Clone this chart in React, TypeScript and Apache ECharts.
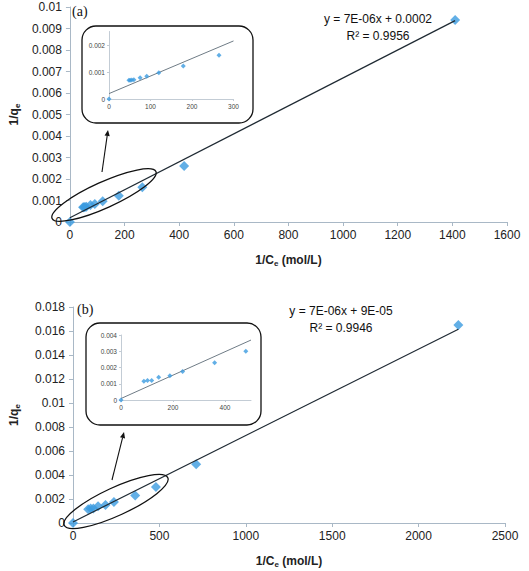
import React, { useEffect, useRef } from "react";
import * as echarts from "echarts";

// ---- data ----
const topX = [0, 48, 51, 55, 60, 75, 91, 120, 179, 265, 418, 1410];
const topY = [0, 0.00069, 0.00069, 0.0007, 0.00071, 0.00079, 0.00084, 0.00097, 0.00122, 0.00162, 0.0026, 0.0094];
const botX = [0, 88, 102, 118, 145, 188, 237, 360, 480, 713, 2230];
const botY = [0, 0.00115, 0.0012, 0.0012, 0.0014, 0.0015, 0.00175, 0.0023, 0.003, 0.0049, 0.0165];
const topSlope = 6.5e-6;
const topIntercept = 0.0002;
const botSlope = 7.2e-6;
const botIntercept = 0.00009;
const topEquation = ["y = 7E-06x + 0.0002", "R² = 0.9956"];
const botEquation = ["y = 7E-06x + 9E-05", "R² = 0.9946"];
const insetTopMaxX = 300;
const insetBotMaxX = 500;

const FONT = "Liberation Sans";
const BLUE = "#3b9be0";
const AXIS = "#a9b8c6";

const fmt = (v: number) => (v === 0 ? "0" : String(+v.toFixed(4)));
const fmtX = (v: number) => String(Math.round(v));

function pts(xs: number[], ys: number[], maxX = Infinity) {
  const out: number[][] = [];
  xs.forEach((x, i) => {
    if (x <= maxX) out.push([x, ys[i]]);
  });
  return out;
}
function trend(slope: number, icpt: number, x0: number, x1: number) {
  return [
    [x0, icpt + slope * x0],
    [x1, icpt + slope * x1],
  ];
}

const richName = {
  b: { fontSize: 12, fontWeight: "bold", fontFamily: FONT, color: "#222" },
  s: { fontSize: 8, fontWeight: "bold", fontFamily: FONT, color: "#222", padding: [6, 0, 0, 0] },
};

function mainX(grid: number, max: number, interval: number) {
  return {
    gridIndex: grid,
    type: "value",
    min: 0,
    max,
    interval,
    axisLine: { show: true, lineStyle: { color: AXIS, width: 1 } },
    axisTick: { show: true, length: 4, lineStyle: { color: AXIS } },
    splitLine: { show: false },
    axisLabel: { fontSize: 12, color: "#222", margin: 7, fontFamily: FONT, formatter: fmtX },
    name: "{b|1/C}{s|e}{b| (mol/L)}",
    nameLocation: "middle",
    nameGap: 31,
    nameTextStyle: { rich: richName },
  };
}
function mainY(grid: number, max: number, interval: number, gap: number) {
  return {
    gridIndex: grid,
    type: "value",
    min: 0,
    max,
    interval,
    axisLine: { show: true, lineStyle: { color: AXIS, width: 1 } },
    axisTick: { show: true, length: 4, lineStyle: { color: AXIS } },
    splitLine: { show: false },
    axisLabel: { fontSize: 12, color: "#222", margin: 8, fontFamily: FONT, formatter: fmt },
    name: "{b|1/q}{s|e}",
    nameLocation: "middle",
    nameGap: gap,
    nameTextStyle: { rich: richName },
  };
}
function insetAxis(grid: number, max: number, interval: number, isY: boolean, showMax: boolean) {
  return {
    gridIndex: grid,
    type: "value",
    min: 0,
    max,
    interval,
    axisLine: { show: true, lineStyle: { color: "#c3ccd5", width: 1 } },
    axisTick: { show: true, length: 2, lineStyle: { color: "#c3ccd5" } },
    splitLine: { show: false },
    axisLabel: {
      fontSize: 6.5,
      color: "#444",
      margin: 4,
      fontFamily: FONT,
      showMaxLabel: showMax,
      formatter: isY ? fmt : fmtX,
    },
  };
}

function arrow(tail: number[], tip: number[]) {
  const dx = tip[0] - tail[0];
  const dy = tip[1] - tail[1];
  const len = Math.sqrt(dx * dx + dy * dy);
  const ux = dx / len;
  const uy = dy / len;
  const hl = 6;
  const hw = 2.6;
  const bx = tip[0] - ux * hl;
  const by = tip[1] - uy * hl;
  return [
    {
      type: "line",
      z: 20,
      shape: { x1: tail[0], y1: tail[1], x2: bx, y2: by },
      style: { stroke: "#111", lineWidth: 1.1 },
    },
    {
      type: "polygon",
      z: 20,
      shape: {
        points: [
          [tip[0], tip[1]],
          [bx - uy * hw, by + ux * hw],
          [bx + uy * hw, by - ux * hw],
        ],
      },
      style: { fill: "#111" },
    },
  ];
}

function ellipse(cx: number, cy: number, rx: number, ry: number, deg: number) {
  return {
    type: "ellipse",
    z: 20,
    x: cx,
    y: cy,
    rotation: (deg * Math.PI) / 180,
    shape: { cx: 0, cy: 0, rx, ry },
    style: { fill: "rgba(0,0,0,0)", stroke: "#111", lineWidth: 1.3 },
  };
}

function box(x: number, y: number, w: number, h: number) {
  return {
    type: "rect",
    z: 20,
    shape: { x, y, width: w, height: h, r: 14 },
    style: { fill: "rgba(0,0,0,0)", stroke: "#111", lineWidth: 1.3 },
  };
}

function eqText(lines: string[], cx: number, y1: number, y2: number) {
  return lines.map((t, i) => ({
    type: "text",
    z: 20,
    x: cx,
    y: i === 0 ? y1 : y2,
    style: {
      text: t,
      fontSize: 12,
      fontFamily: FONT,
      fill: "#111",
      align: "center",
      verticalAlign: "middle",
    },
  }));
}

export default function App() {
  const ref = useRef<HTMLDivElement>(null);
  useEffect(() => {
    if (!ref.current) return;
    const chart = echarts.init(ref.current, undefined, { renderer: "svg" });
    const topMaxX = Math.max(...topX);
    const botMaxX = Math.max(...botX);
    const option: any = {
      animation: false,
      backgroundColor: "#fff",
      grid: [
        { left: 61, top: 7, width: 446, height: 215 },
        { left: 109, top: 31.5, width: 124.5, height: 67.5 },
        { left: 70, top: 307, width: 435, height: 216 },
        { left: 121, top: 335, width: 130, height: 65 },
      ],
      xAxis: [
        mainX(0, 1600, 200),
        insetAxis(1, insetTopMaxX, 100, false, true),
        mainX(2, 2500, 500),
        insetAxis(3, insetBotMaxX, 200, false, false),
      ],
      yAxis: [
        mainY(0, 0.01, 0.001, 46),
        insetAxis(1, 0.0025, 0.001, true, false),
        mainY(2, 0.018, 0.002, 52),
        insetAxis(3, 0.004, 0.001, true, true),
      ],
      series: [
        {
          type: "line",
          xAxisIndex: 0,
          yAxisIndex: 0,
          data: trend(topSlope, topIntercept, 0, topMaxX),
          showSymbol: false,
          lineStyle: { color: "#1f2a33", width: 1.2 },
          z: 3,
        },
        {
          type: "scatter",
          xAxisIndex: 0,
          yAxisIndex: 0,
          data: pts(topX, topY),
          symbol: "diamond",
          symbolSize: 10,
          itemStyle: { color: BLUE },
          z: 2,
        },
        {
          type: "line",
          xAxisIndex: 1,
          yAxisIndex: 1,
          data: trend(topSlope, topIntercept, 0, insetTopMaxX),
          showSymbol: false,
          lineStyle: { color: "#6f7c86", width: 1 },
          z: 3,
        },
        {
          type: "scatter",
          xAxisIndex: 1,
          yAxisIndex: 1,
          data: pts(topX, topY, insetTopMaxX),
          symbol: "diamond",
          symbolSize: 5,
          itemStyle: { color: BLUE },
          z: 4,
        },
        {
          type: "line",
          xAxisIndex: 2,
          yAxisIndex: 2,
          data: trend(botSlope, botIntercept, 0, botMaxX),
          showSymbol: false,
          lineStyle: { color: "#1f2a33", width: 1.2 },
          z: 3,
        },
        {
          type: "scatter",
          xAxisIndex: 2,
          yAxisIndex: 2,
          data: pts(botX, botY),
          symbol: "diamond",
          symbolSize: 10,
          itemStyle: { color: BLUE },
          z: 2,
        },
        {
          type: "line",
          xAxisIndex: 3,
          yAxisIndex: 3,
          data: trend(botSlope, botIntercept, 0, insetBotMaxX),
          showSymbol: false,
          lineStyle: { color: "#6f7c86", width: 1 },
          z: 3,
        },
        {
          type: "scatter",
          xAxisIndex: 3,
          yAxisIndex: 3,
          data: pts(botX, botY, insetBotMaxX),
          symbol: "diamond",
          symbolSize: 5,
          itemStyle: { color: BLUE },
          z: 4,
        },
      ],
      graphic: [
        box(82, 26, 171, 97),
        box(86, 323, 175, 102),
        ellipse(104, 195, 57, 13, 24.3),
        ellipse(116, 501.5, 57, 14, 24.7),
        ...arrow([102, 172], [108, 130]),
        ...arrow([112, 480], [124, 432]),
        {
          type: "text",
          z: 20,
          x: 72,
          y: 11,
          style: { text: "(a)", fontSize: 14, fontFamily: "Liberation Serif", fill: "#111", verticalAlign: "middle" },
        },
        {
          type: "text",
          z: 20,
          x: 77,
          y: 309,
          style: { text: "(b)", fontSize: 14, fontFamily: "Liberation Serif", fill: "#111", verticalAlign: "middle" },
        },
        ...eqText(topEquation, 378, 19, 36),
        ...eqText(botEquation, 341, 311, 328),
      ],
    };
    chart.setOption(option);
    return () => chart.dispose();
  }, []);
  return (
    <div
      ref={ref}
      style={{ position: "fixed", left: 0, top: 0, width: 529, height: 571, background: "#fff" }}
    />
  );
}
